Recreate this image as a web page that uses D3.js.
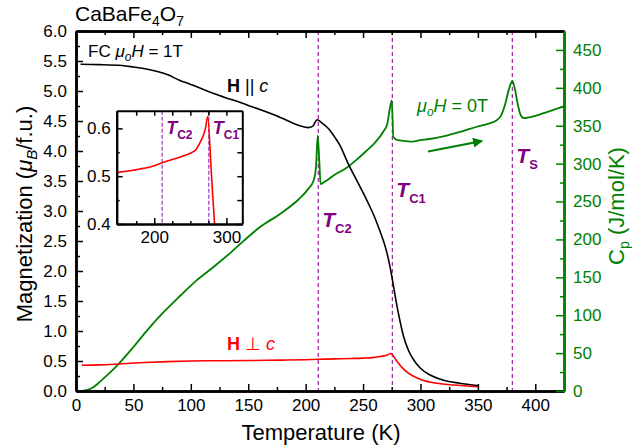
<!DOCTYPE html>
<html>
<head>
<meta charset="utf-8">
<script src="https://cdn.jsdelivr.net/npm/d3@7"></script>
<style>
  body { margin: 0; background: #fff; }
  svg text { font-family: "Liberation Sans", Arial, sans-serif; }
</style>
</head>
<body>
<svg id="chart" width="632" height="448"></svg>
<script>
/* data */
var tempPar = [4, 20, 40, 50, 60, 80, 90, 100, 120, 150, 178, 195, 202, 206, 210, 214, 220, 225, 230, 237, 244.5, 253, 260, 265, 270, 273.5, 276.4, 279.3, 282, 285, 289.5, 294, 300, 308, 320, 334, 350];
var magPar = [5.445, 5.44, 5.425, 5.40, 5.37, 5.27, 5.18, 5.11, 4.96, 4.76, 4.56, 4.42, 4.39, 4.41, 4.52, 4.47, 4.37, 4.24, 4.09, 3.79, 3.51, 3.19, 2.90, 2.65, 2.36, 2.07, 1.76, 1.44, 1.18, 0.93, 0.68, 0.52, 0.38, 0.27, 0.18, 0.13, 0.09];

var tempPerp = [5, 20, 37, 60, 80, 100, 130, 150, 180, 200, 211, 225, 240, 250, 258, 264, 268, 271, 274, 279, 284, 288, 294, 302, 314, 329, 343, 350];
var magPerp = [0.43, 0.435, 0.45, 0.475, 0.49, 0.50, 0.505, 0.508, 0.515, 0.522, 0.528, 0.535, 0.542, 0.548, 0.556, 0.572, 0.585, 0.60, 0.625, 0.51, 0.39, 0.32, 0.245, 0.18, 0.13, 0.10, 0.08, 0.07];

var tempCp = [5, 10, 15, 20, 25, 30, 37, 50, 62, 75, 91, 105, 120, 135, 146, 160, 178, 194, 202, 207, 209, 210.5, 212, 213, 215.5, 225, 236, 245, 253, 260, 268, 271, 273.5, 275, 276.4, 280, 285, 291, 300, 308, 320, 337, 350, 360, 366, 370, 373.7, 377, 380, 382, 384.5, 387, 390, 400, 410, 425];
var cp = [0, 1.5, 5, 11, 18, 25, 35.5, 58, 80, 102, 126, 146, 164, 183, 198, 216, 234, 253, 266, 278, 295, 337, 300, 273, 275, 285, 295, 306, 317, 327, 343, 352, 374, 383, 335, 331, 330, 329, 331, 332.5, 336, 343, 349, 353, 357, 363, 378, 398, 409, 400, 380, 365, 360, 363, 368, 376];

var transitions = [{name: "C2", t: 211}, {name: "C1", t: 275.5}, {name: "S", t: 380}];
var arrowT = [306.6, 353.7];
var arrowCp = [316, 330];

var xTicks = d3.range(0, 401, 50);
var yLeftTicks = d3.range(0, 6.01, 0.5);
var yRightTicks = d3.range(0, 451, 50);

var green = "#008000", red = "#ff0000", purple = "#800080", dashCol = "#a020a0";

var svg = d3.select("#chart");

/* main scales */
var x = d3.scaleLinear().domain([0, 425]).range([76, 564]);
var yL = d3.scaleLinear().domain([0, 6]).range([391, 31]);
var yR = d3.scaleLinear().domain([0, 475]).range([391, 31]);

function zip(a, b) { return a.map(function(v, i) { return [v, b[i]]; }); }

/* dashed transition lines */
svg.selectAll("line.tline").data(transitions).enter().append("line")
  .attr("x1", function(d) { return x(d.t); }).attr("x2", function(d) { return x(d.t); })
  .attr("y1", yL(6)).attr("y2", yL(0))
  .attr("stroke", dashCol).attr("stroke-width", 1.2).attr("stroke-dasharray", "4,3");

/* curves */
var lineL = d3.line().x(function(d) { return x(d[0]); }).y(function(d) { return yL(d[1]); }).curve(d3.curveMonotoneX);
var lineR = d3.line().x(function(d) { return x(d[0]); }).y(function(d) { return yR(d[1]); }).curve(d3.curveMonotoneX);

svg.append("path").attr("d", lineR(zip(tempCp, cp))).attr("fill", "none").attr("stroke", green).attr("stroke-width", 1.8);
svg.append("path").attr("d", lineL(zip(tempPar, magPar))).attr("fill", "none").attr("stroke", "#000").attr("stroke-width", 1.6);
svg.append("path").attr("d", lineL(zip(tempPerp, magPerp))).attr("fill", "none").attr("stroke", red).attr("stroke-width", 1.6);

/* arrow */
var defs = svg.append("defs");
defs.append("marker").attr("id", "arrowhead").attr("viewBox", "0 0 10 10")
  .attr("refX", 9).attr("refY", 5).attr("markerWidth", 6.5).attr("markerHeight", 5)
  .attr("markerUnits", "strokeWidth").attr("orient", "auto")
  .append("path").attr("d", "M0,0L10,5L0,10Z").attr("fill", green);
svg.append("path").attr("d", d3.line()(zip(arrowT, arrowCp).map(function(d) { return [x(d[0]), yR(d[1])]; })))
  .attr("stroke", green).attr("stroke-width", 2).attr("fill", "none").attr("marker-end", "url(#arrowhead)");

/* axes */
function styleAxis(g, col, fs) {
  g.select(".domain").attr("stroke", col).attr("stroke-width", 2.5);
  g.selectAll(".tick line").attr("stroke", col).attr("stroke-width", 1.5);
  g.selectAll(".tick text").attr("fill", col).style("font-size", fs + "px").style("font-family", "Liberation Sans, Arial, sans-serif");
}

var minorX = d3.range(25, 426, 50);
svg.append("g").attr("transform", "translate(0,391)")
  .call(d3.axisBottom(x).tickValues(minorX).tickSize(-4).tickSizeOuter(0).tickFormat(""))
  .call(function(g) { styleAxis(g, "#000", 17); });
svg.append("g").attr("transform", "translate(0,391)")
  .call(d3.axisBottom(x).tickValues(xTicks).tickSize(-7).tickSizeOuter(0).tickPadding(8))
  .call(function(g) { styleAxis(g, "#000", 17); });
svg.append("g").attr("transform", "translate(0,31)")
  .call(d3.axisTop(x).tickValues(minorX).tickSize(-4).tickSizeOuter(0).tickFormat(""))
  .call(function(g) { styleAxis(g, "#000", 17); });
svg.append("g").attr("transform", "translate(0,31)")
  .call(d3.axisTop(x).tickValues(xTicks).tickSize(-7).tickSizeOuter(0).tickFormat(""))
  .call(function(g) { styleAxis(g, "#000", 17); });

svg.append("g").attr("transform", "translate(76,0)")
  .call(d3.axisLeft(yL).tickValues(d3.range(0.25, 6, 0.5)).tickSize(-4).tickSizeOuter(0).tickFormat(""))
  .call(function(g) { styleAxis(g, "#000", 17); });
svg.append("g").attr("transform", "translate(76,0)")
  .call(d3.axisLeft(yL).tickValues(yLeftTicks).tickSize(-7).tickSizeOuter(0).tickPadding(9).tickFormat(d3.format(".1f")))
  .call(function(g) { styleAxis(g, "#000", 17); });

svg.append("g").attr("transform", "translate(564,0)")
  .call(d3.axisRight(yR).tickValues(d3.range(25, 475, 50)).tickSize(-4).tickSizeOuter(0).tickFormat(""))
  .call(function(g) { styleAxis(g, green, 17); });
svg.append("g").attr("transform", "translate(564,0)")
  .call(d3.axisRight(yR).tickValues(yRightTicks).tickSize(-8).tickSizeOuter(0).tickPadding(9))
  .call(function(g) { styleAxis(g, green, 17); });

/* axis titles */
svg.append("text").attr("x", 321).attr("y", 440).attr("text-anchor", "middle")
  .style("font-size", "22px").text("Temperature (K)");

var lt = svg.append("text").attr("transform", "translate(32,214) rotate(-90)").attr("text-anchor", "middle")
  .style("font-size", "22px");
lt.append("tspan").text("Magnetization (");
lt.append("tspan").style("font-style", "italic").text("\u03bc");
lt.append("tspan").style("font-style", "italic").style("font-size", "15px").attr("dy", 5).text("B");
lt.append("tspan").attr("dy", -5).text("/f.u.)");

var rt = svg.append("text").attr("transform", "translate(624,206) rotate(-90)").attr("text-anchor", "middle")
  .style("font-size", "22px").attr("fill", green);
rt.append("tspan").text("C");
rt.append("tspan").style("font-size", "14px").attr("dy", 5).text("p");
rt.append("tspan").attr("dy", -5).text(" (J/mol/K)");

/* title */
var tt = svg.append("text").attr("x", 75).attr("y", 21).style("font-size", "21px");
tt.append("tspan").text("CaBaFe");
tt.append("tspan").style("font-size", "14px").attr("dy", 5).text("4");
tt.append("tspan").attr("dy", -5).text("O");
tt.append("tspan").style("font-size", "14px").attr("dy", 5).text("7");

/* annotations */
var fc = svg.append("text").attr("x", 88).attr("y", 57).style("font-size", "17px");
fc.append("tspan").text("FC ");
fc.append("tspan").style("font-style", "italic").text("\u03bc");
fc.append("tspan").style("font-style", "italic").style("font-size", "12px").attr("dy", 4).text("o");
fc.append("tspan").style("font-style", "italic").attr("dy", -4).text("H");
fc.append("tspan").text(" = 1T");

var hp = svg.append("text").attr("x", 227).attr("y", 92).style("font-size", "18px");
hp.append("tspan").style("font-weight", "bold").text("H");
hp.append("tspan").text(" || ");
hp.append("tspan").style("font-style", "italic").text("c");

var hn = svg.append("text").attr("x", 227).attr("y", 350).style("font-size", "18px").attr("fill", red);
hn.append("tspan").style("font-weight", "bold").text("H");
hn.append("tspan").text(" \u22a5 ");
hn.append("tspan").style("font-style", "italic").text("c");

var h0 = svg.append("text").attr("x", 417).attr("y", 112).style("font-size", "18px").attr("fill", green);
h0.append("tspan").style("font-style", "italic").text("\u03bc");
h0.append("tspan").style("font-style", "italic").style("font-size", "12px").attr("dy", 4).text("o");
h0.append("tspan").style("font-style", "italic").attr("dy", -4).text("H");
h0.append("tspan").text(" = 0T");

function tLabel(parent, px, py, sub, fs, sfs) {
  var t = parent.append("text").attr("x", px).attr("y", py).attr("fill", purple)
    .style("font-size", fs + "px").style("font-weight", "bold");
  t.append("tspan").style("font-style", "italic").text("T");
  t.append("tspan").style("font-size", sfs + "px").attr("dy", fs * 0.3).text(sub);
}
var labelY = {C2: 227, C1: 197, S: 163};
transitions.forEach(function(d) { tLabel(svg, x(d.t) + 4, labelY[d.name], d.name, 21, 13); });

/* inset */
var xi = d3.scaleLinear().domain([148, 322]).range([116.7, 242.3]);
var yi = d3.scaleLinear().domain([0.4, 0.637]).range([224, 110.7]);
var inset = svg.append("g");
inset.append("rect").attr("x", 116.7).attr("y", 110.7).attr("width", 125.6).attr("height", 113.3).attr("fill", "#fff");
defs.append("clipPath").attr("id", "insetClip").append("rect")
  .attr("x", 116.7).attr("y", 110.7).attr("width", 125.6).attr("height", 113.3);

inset.selectAll("line.il").data(transitions.slice(0, 2)).enter().append("line")
  .attr("x1", function(d) { return xi(d.t); }).attr("x2", function(d) { return xi(d.t); })
  .attr("y1", 110.7).attr("y2", 224)
  .attr("stroke", "#b060c8").attr("stroke-width", 1.5).attr("stroke-dasharray", "4,2");

var lineI = d3.line().x(function(d) { return xi(d[0]); }).y(function(d) { return yi(d[1]); }).curve(d3.curveMonotoneX);
inset.append("path").attr("clip-path", "url(#insetClip)").attr("d", lineI(zip(tempPerp, magPerp)))
  .attr("fill", "none").attr("stroke", red).attr("stroke-width", 1.6);

var insetXTicks = [200, 300], insetXMinor = [175, 225, 250, 275];
var insetYTicks = [0.4, 0.5, 0.6], insetYMinor = [0.45, 0.55];
inset.append("g").attr("transform", "translate(0,224)")
  .call(d3.axisBottom(xi).tickValues(insetXMinor).tickSize(-3).tickSizeOuter(0).tickFormat(""))
  .call(function(g) { styleAxis(g, "#000", 17); });
inset.append("g").attr("transform", "translate(0,224)")
  .call(d3.axisBottom(xi).tickValues(insetXTicks).tickSize(-6).tickSizeOuter(0).tickPadding(7))
  .call(function(g) { styleAxis(g, "#000", 17); });
inset.append("g").attr("transform", "translate(0,110.7)")
  .call(d3.axisTop(xi).tickValues(insetXTicks.concat(insetXMinor)).tickSize(-5).tickSizeOuter(0).tickFormat(""))
  .call(function(g) { styleAxis(g, "#000", 17); });
inset.append("g").attr("transform", "translate(116.7,0)")
  .call(d3.axisLeft(yi).tickValues(insetYMinor).tickSize(-3).tickSizeOuter(0).tickFormat(""))
  .call(function(g) { styleAxis(g, "#000", 17); });
inset.append("g").attr("transform", "translate(116.7,0)")
  .call(d3.axisLeft(yi).tickValues(insetYTicks).tickSize(-6).tickSizeOuter(0).tickPadding(6).tickFormat(d3.format(".1f")))
  .call(function(g) { styleAxis(g, "#000", 17); });
inset.append("g").attr("transform", "translate(242.3,0)")
  .call(d3.axisRight(yi).tickValues(insetYTicks.concat(insetYMinor)).tickSize(-5).tickSizeOuter(0).tickFormat(""))
  .call(function(g) { styleAxis(g, "#000", 17); });
inset.selectAll(".domain").attr("stroke-width", 2);

transitions.slice(0, 2).forEach(function(d) { tLabel(inset, xi(d.t) + 4, 134, d.name, 18, 12); });
</script>
</body>
</html>
